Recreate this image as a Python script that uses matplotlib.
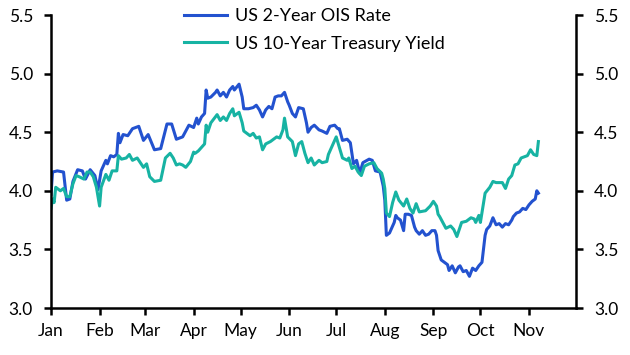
import pandas as pd
import matplotlib.pyplot as plt
import matplotlib.dates as mdates

plt.rcParams['font.family'] = ['Lato', 'DejaVu Sans']

# US 2-year OIS rate, %
ois_dates = ["01-01", "01-02", "01-05", "01-09", "01-11", "01-13", "01-15", "01-18", "01-21", "01-23", "01-26", "01-29", "01-31",
             "02-02", "02-05", "02-06", "02-08", "02-10", "02-12", "02-13", "02-14", "02-16", "02-19", "02-22", "02-26", "02-29",
             "03-03", "03-07", "03-11", "03-15", "03-18", "03-21", "03-25", "03-29",
             "04-01", "04-03", "04-04", "04-06", "04-08", "04-09", "04-10", "04-12", "04-15", "04-16", "04-18", "04-20", "04-22", "04-24", "04-26", "04-27", "04-30",
             "05-02", "05-03", "05-06", "05-09", "05-11", "05-13", "05-15", "05-17", "05-19", "05-21", "05-23", "05-25", "05-27", "05-29", "05-31",
             "06-01", "06-03", "06-05", "06-07", "06-10", "06-12", "06-13", "06-15", "06-17", "06-20", "06-22", "06-25", "06-27", "06-30",
             "07-02", "07-03", "07-05", "07-08", "07-10", "07-12", "07-14", "07-16", "07-18", "07-22", "07-24", "07-26", "07-29", "07-31",
             "08-01", "08-02", "08-04", "08-06", "08-07", "08-08", "08-09", "08-11", "08-13", "08-14", "08-16", "08-18", "08-20", "08-21", "08-23", "08-25", "08-27", "08-29", "08-31",
             "09-02", "09-03", "09-04", "09-06", "09-08", "09-10", "09-11", "09-13", "09-15", "09-17", "09-18", "09-20", "09-22", "09-24", "09-26", "09-28", "09-30",
             "10-02", "10-04", "10-05", "10-07", "10-09", "10-11", "10-13", "10-15", "10-17", "10-19", "10-21", "10-22", "10-24", "10-26", "10-28", "10-30",
             "11-01", "11-03", "11-05", "11-06", "11-07"]
ois_vals = [3.97, 4.16, 4.17, 4.16, 3.92, 3.93, 4.08, 4.18, 4.17, 4.10, 4.18, 4.13, 4.01,
            4.17, 4.26, 4.23, 4.30, 4.29, 4.31, 4.49, 4.41, 4.48, 4.47, 4.53, 4.55, 4.43,
            4.48, 4.35, 4.36, 4.57, 4.57, 4.44, 4.46, 4.56,
            4.54, 4.62, 4.57, 4.63, 4.66, 4.86, 4.79, 4.80, 4.84, 4.86, 4.81, 4.84, 4.80, 4.86, 4.89, 4.86, 4.91,
            4.80, 4.70, 4.70, 4.71, 4.73, 4.69, 4.63, 4.69, 4.72, 4.70, 4.80, 4.81, 4.81, 4.84, 4.76,
            4.73, 4.66, 4.63, 4.71, 4.70, 4.58, 4.50, 4.54, 4.56, 4.52, 4.51, 4.49, 4.55, 4.56,
            4.53, 4.53, 4.43, 4.44, 4.41, 4.23, 4.26, 4.15, 4.24, 4.27, 4.26, 4.17, 4.16, 4.04,
            3.92, 3.62, 3.64, 3.70, 3.73, 3.79, 3.77, 3.75, 3.66, 3.80, 3.80, 3.79, 3.69, 3.66, 3.63, 3.66, 3.62, 3.63, 3.66,
            3.66, 3.62, 3.49, 3.41, 3.39, 3.37, 3.32, 3.36, 3.30, 3.35, 3.36, 3.31, 3.32, 3.27, 3.34, 3.32, 3.36,
            3.39, 3.62, 3.67, 3.70, 3.77, 3.71, 3.72, 3.69, 3.72, 3.71, 3.75, 3.78, 3.81, 3.82, 3.85, 3.84,
            3.88, 3.91, 3.93, 4.00, 3.98]

# US 10-year Treasury yield, %
ust_dates = ["01-01", "01-02", "01-03", "01-04", "01-06", "01-07", "01-09", "01-11", "01-13", "01-15", "01-17", "01-19", "01-22", "01-24", "01-26", "01-28", "01-30",
             "02-01", "02-02", "02-05", "02-07", "02-09", "02-12", "02-13", "02-15", "02-18", "02-20", "02-22", "02-25", "02-27", "02-29",
             "03-02", "03-04", "03-07", "03-11", "03-14", "03-17", "03-19", "03-21", "03-23", "03-25", "03-27", "03-30",
             "04-01", "04-02", "04-04", "04-06", "04-08", "04-09", "04-10", "04-12", "04-16", "04-18", "04-20", "04-22", "04-24", "04-26", "04-27", "04-30",
             "05-02", "05-03", "05-05", "05-07", "05-09", "05-11", "05-13", "05-15", "05-17", "05-20", "05-22", "05-24", "05-26", "05-28", "05-29", "05-31",
             "06-03", "06-05", "06-07", "06-09", "06-11", "06-13", "06-15", "06-17", "06-20", "06-22", "06-25", "06-26", "06-28",
             "07-01", "07-03", "07-05", "07-08", "07-09", "07-11", "07-13", "07-15", "07-17", "07-19", "07-22", "07-25", "07-27", "07-30", "07-31",
             "08-01", "08-02", "08-04", "08-06", "08-08", "08-10", "08-13", "08-15", "08-17", "08-19", "08-21", "08-23", "08-27", "08-30",
             "09-01", "09-03", "09-04", "09-05", "09-07", "09-09", "09-12", "09-14", "09-16", "09-19", "09-22", "09-25", "09-27", "09-28", "09-30",
             "10-01", "10-04", "10-07", "10-09", "10-11", "10-15", "10-17", "10-19", "10-21", "10-23", "10-25", "10-27", "10-31",
             "11-02", "11-04", "11-06", "11-07"]
ust_vals = [3.85, 3.93, 3.90, 4.03, 4.01, 4.00, 4.02, 3.95, 3.95, 4.06, 4.13, 4.12, 4.10, 4.16, 4.16, 4.12, 4.03,
            3.87, 4.03, 4.14, 4.09, 4.17, 4.17, 4.30, 4.27, 4.28, 4.31, 4.26, 4.28, 4.24, 4.20,
            4.23, 4.12, 4.08, 4.09, 4.28, 4.32, 4.28, 4.22, 4.23, 4.22, 4.20, 4.25,
            4.33, 4.32, 4.34, 4.37, 4.40, 4.56, 4.50, 4.58, 4.65, 4.60, 4.63, 4.60, 4.66, 4.70, 4.64, 4.67,
            4.58, 4.51, 4.49, 4.47, 4.49, 4.45, 4.46, 4.35, 4.40, 4.42, 4.44, 4.46, 4.45, 4.52, 4.62, 4.46,
            4.42, 4.30, 4.40, 4.42, 4.32, 4.24, 4.28, 4.22, 4.26, 4.24, 4.25, 4.31, 4.37,
            4.46, 4.37, 4.28, 4.26, 4.28, 4.19, 4.21, 4.16, 4.13, 4.21, 4.23, 4.24, 4.19, 4.15, 4.10,
            4.02, 3.81, 3.78, 3.90, 3.99, 3.92, 3.87, 3.93, 3.85, 3.81, 3.89, 3.82, 3.83, 3.87,
            3.91, 3.87, 3.80, 3.78, 3.73, 3.68, 3.70, 3.67, 3.61, 3.73, 3.74, 3.77, 3.76, 3.73, 3.79,
            3.73, 3.98, 4.03, 4.08, 4.07, 4.07, 4.02, 4.10, 4.13, 4.22, 4.23, 4.28, 4.30,
            4.35, 4.31, 4.30, 4.42]

blue = '#2352cf'
teal = '#17b3a3'

fig = plt.figure(figsize=(6.3, 3.55), dpi=100)
ax = fig.add_axes([51 / 630, 1 - 308 / 355, 525 / 630, 293 / 355])

ax.plot(pd.to_datetime(['2024-' + d for d in ois_dates]), ois_vals, color=blue, lw=2.2,
        label='US 2-Year OIS Rate')
ax.plot(pd.to_datetime(['2024-' + d for d in ust_dates]), ust_vals, color=teal, lw=2.2,
        label='US 10-Year Treasury Yield')

ax.set_xlim(pd.Timestamp('2024-01-01'), pd.Timestamp('2024-12-01'))
ax.xaxis.set_major_locator(mdates.MonthLocator(bymonth=range(1, 12)))
ax.xaxis.set_major_formatter(mdates.DateFormatter('%b'))

ax2 = ax.twinx()
yticks = [3.0, 3.5, 4.0, 4.5, 5.0, 5.5]
for a in (ax, ax2):
    a.set_ylim(3.0, 5.5)
    a.set_yticks(yticks)
    a.set_yticklabels([f'{t:.1f}' for t in yticks])
    a.spines['top'].set_visible(False)
    for s in a.spines.values():
        s.set_linewidth(1.8)
    a.tick_params(direction='out', length=5, width=1.8, labelsize=12.5, pad=8)

ax.spines['right'].set_visible(False)
ax2.spines['left'].set_visible(False)
ax2.spines['bottom'].set_visible(False)
ax.tick_params(axis='x', pad=6)

ax.legend(loc='upper left', bbox_to_anchor=(184 / 630, 1 - 8 / 355), bbox_transform=fig.transFigure,
          frameon=False, fontsize=13, handlelength=2.4, handletextpad=0.4,
          labelspacing=0.65, borderpad=0, borderaxespad=0)

fig.savefig('out.png', dpi=100)
